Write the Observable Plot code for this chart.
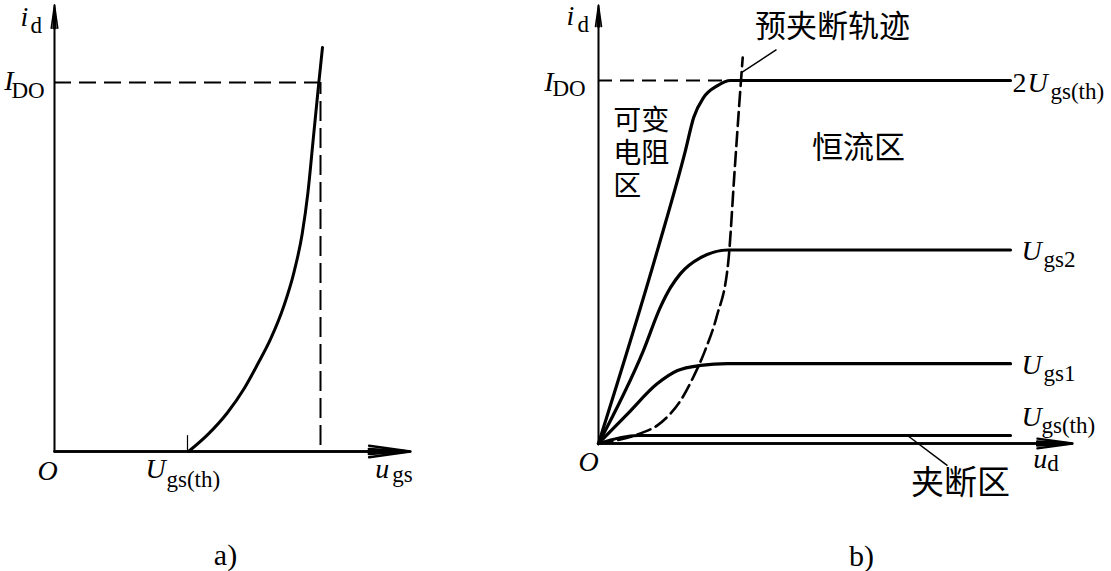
<!DOCTYPE html>
<html><head><meta charset="utf-8">
<script src="https://cdn.jsdelivr.net/npm/d3@7"></script>
<script src="https://cdn.jsdelivr.net/npm/@observablehq/plot@0.6"></script>
<style>
body{margin:0;background:#fff;}
#wrap{display:flex;width:1111px;height:571px;overflow:hidden;}
#wrap svg{overflow:visible;max-width:none;}
</style></head><body><div id="wrap"><div id="a"></div><div id="b"></div></div>
<script>
// ---------- Panel a: transfer characteristic ----------
const aUgs = [4.03, 4.60, 5.20, 5.70, 6.10, 6.50, 6.90, 7.20, 7.45, 7.62, 7.78, 7.95, 8.06];
const aId  = [0,    0.45, 1.05, 1.70, 2.35, 3.05, 3.95, 4.85, 5.90, 7.00, 8.45, 10.0, 10.95];
const aUth = 4, aU2th = 8, IDO = 10;
const aXmax = 10.7, aYmax = 12.1;

// ---------- Panel b: output characteristics ----------
const bUd = {
  "2Uth": [0, 1.43, 2.11, 2.31, 2.55, 2.89, 3.20, 10],
  "Ugs2": [0, 1.09, 1.50, 1.75, 1.99, 2.48, 3.15, 10],
  "Ugs1": [0, 0.70, 1.43, 1.92, 2.48, 3.13, 10],
  "Uth":  [0, 0.95, 10]
};
const bId = {
  "2Uth": [0, 5.32, 8.07, 8.98, 9.53, 9.86, 10, 10],
  "Ugs2": [0, 2.56, 3.75, 4.30, 4.68, 5.12, 5.33, 5.33],
  "Ugs1": [0, 0.81, 1.65, 2.01, 2.15, 2.20, 2.20],
  "Uth":  [0, 0.22, 0.22]
};
const pinchUd = [0, 0.53, 1.02, 1.43, 1.75, 1.99, 2.31, 2.60, 2.87, 3.15, 3.30, 3.42, 3.50];
const pinchId = [0, 0.11, 0.28, 0.50, 0.83, 1.18, 1.85, 2.60, 3.50, 5.00, 7.45, 9.40, 10.63];
const bXmax = 11.5, bYmax = 12.07, bIdoEnd = 3.2;
const curveKeys = ["2Uth", "Ugs2", "Ugs1", "Uth"];
const curvePre  = ["2", "", "", ""];
const curveMain = ["U", "U", "U", "U"];
const curveSub  = ["gs(th)", "gs2", "gs1", "gs(th)"];

const SERIF = "'Liberation Serif', 'Times New Roman', serif";
const CJK = "'Noto Sans CJK SC', 'Noto Sans CJK JP', sans-serif";

function pts(xs, ys) { return xs.map((x, i) => ({x, y: ys[i]})); }
function txt(x, y, t, o) {
  return Plot.text([{x, y, t}], Object.assign({x: "x", y: "y", text: "t", lineAnchor: "bottom", textAnchor: "start",
    fontFamily: SERIF, fontSize: 28}, o));
}
function axisArrow(x2, y2, w, len) {
  const d = [{x1: 0, y1: 0, x2, y2}];
  const base = {x1: "x1", y1: "y1", x2: "x2", y2: "y2", headLength: len, strokeWidth: w, stroke: "black"};
  return [Plot.arrow(d, {...base, headAngle: 16}), Plot.arrow(d, {...base, headAngle: 7})];
}

// ---- plot a ----
const plotA = Plot.plot({
  width: 530, height: 571, marginLeft: 54, marginRight: 210, marginTop: 82, marginBottom: 120,
  style: {background: "white", overflow: "visible"},
  x: {domain: [0, aU2th], axis: null}, y: {domain: [0, IDO], axis: null},
  marks: [
    ...axisArrow(0, aYmax, 1.6, 22),
    ...axisArrow(aXmax, 0, 2.4, 26),
    Plot.ruleY([IDO], {x1: 0, x2: aU2th, stroke: "black", strokeWidth: 2, strokeDasharray: "17,8"}),
    Plot.ruleX([aU2th], {y1: 0, y2: IDO, stroke: "black", strokeWidth: 2, strokeDasharray: "20,7", strokeDashoffset: -6}),
    Plot.ruleX([aUth], {y1: 0, y2: 0.43, stroke: "black", strokeWidth: 1.2}),
    Plot.line(pts(aUgs, aId), {x: "x", y: "y", curve: "monotone-x", stroke: "black", strokeWidth: 3}),
    txt(0, aYmax, "i", {dx: -34, dy: 20.5, fontStyle: "italic"}),
    txt(0, aYmax, "d", {dx: -24, dy: 28, fontSize: 23}),
    txt(0, IDO, "I", {dx: -41, dy: 7, fontStyle: "italic", textAnchor: "end"}),
    txt(0, IDO, "DO", {dx: -43, dy: 15, fontSize: 23}),
    txt(0, 0, "O", {dx: -7, dy: 28, fontStyle: "italic", textAnchor: "middle"}),
    txt(aUth, 0, "U", {dx: -42, dy: 26, fontStyle: "italic"}),
    txt(aUth, 0, "gs(th)", {dx: -21, dy: 35, fontSize: 23}),
    txt(aXmax, 0, "u", {dx: -35, dy: 26, fontStyle: "italic"}),
    txt(aXmax, 0, "gs", {dx: -18, dy: 30, fontSize: 23}),
    Plot.text(["a)"], {frameAnchor: "bottom", dx: 38, dy: 113, lineAnchor: "bottom", fontFamily: SERIF, fontSize: 30})
  ]
});
document.getElementById("a").appendChild(plotA);

// ---- plot b ----
const curveMarks = curveKeys.map(k => Plot.line(pts(bUd[k], bId[k]), {x: "x", y: "y", curve: "monotone-x", stroke: "black", strokeWidth: 3.2}));
const ends = curveKeys.map((k, i) => ({x: bUd[k][bUd[k].length - 1], y: bId[k][bId[k].length - 1], pre: curvePre[i], main: curveMain[i], sub: curveSub[i], i}));
const dyMain = i => (i === 3 ? -10 : i === 0 ? 11 : 10);
const dySub = i => (i === 3 ? -3 : i === 0 ? 18 : 17);
const dxMain = i => (i === 0 ? 17 : 11);
const dxSub = i => (i === 0 ? 40 : i === 3 ? 31 : 33);

const plotB = Plot.plot({
  width: 581, height: 571, marginLeft: 68, marginRight: 101, marginTop: 80, marginBottom: 128,
  style: {background: "white", overflow: "visible"},
  x: {domain: [0, 10], axis: null}, y: {domain: [0, IDO], axis: null},
  marks: [
    ...axisArrow(0, bYmax, 1.6, 20),
    ...axisArrow(bXmax, 0, 2.4, 22),
    Plot.ruleY([IDO], {x1: 0, x2: bIdoEnd, stroke: "black", strokeWidth: 2, strokeDasharray: "14,8"}),
    ...curveMarks,
    Plot.line(pts(pinchUd, pinchId), {x: "x", y: "y", curve: "monotone-x", stroke: "black", strokeWidth: 2.6, strokeDasharray: "14,6"}),
    Plot.link([{x1: 3.47, y1: 10.22, x2: 4.32, y2: 10.85}], {x1: "x1", y1: "y1", x2: "x2", y2: "y2", stroke: "black", strokeWidth: 1.5}),
    Plot.link([{x1: 7.5, y1: 0.22, x2: 8.47, y2: -0.61}], {x1: "x1", y1: "y1", x2: "x2", y2: "y2", stroke: "black", strokeWidth: 1.5}),
    Plot.text(ends, {x: "x", y: "y", text: "pre", dx: 2, dy: 11, lineAnchor: "bottom", textAnchor: "start", fontFamily: SERIF, fontSize: 28}),
    ...ends.map(e => txt(e.x, e.y, e.main, {dx: dxMain(e.i), dy: dyMain(e.i), fontStyle: "italic"})),
    ...ends.map(e => txt(e.x, e.y, e.sub, {dx: dxSub(e.i), dy: dySub(e.i), fontSize: 23})),
    txt(0, bYmax, "i", {dx: -32, dy: 20, fontStyle: "italic"}),
    txt(0, bYmax, "d", {dx: -21, dy: 27, fontSize: 23}),
    txt(0, IDO, "I", {dx: -45, dy: 10, fontStyle: "italic", textAnchor: "end"}),
    txt(0, IDO, "DO", {dx: -46, dy: 15, fontSize: 23}),
    txt(0, 0, "O", {dx: -10, dy: 27, fontStyle: "italic", textAnchor: "middle"}),
    txt(bXmax, 0, "u", {dx: -39, dy: 24, fontStyle: "italic"}),
    txt(bXmax, 0, "d", {dx: -25, dy: 27, fontSize: 23}),
    txt(4.32, 10.85, "预夹断轨迹", {dx: 56, dy: -23, textAnchor: "middle", lineAnchor: "middle", fontFamily: CJK, fontSize: 31}),
    txt(6.31, 8.13, "恒流区", {textAnchor: "middle", lineAnchor: "middle", fontFamily: CJK, fontSize: 31}),
    txt(0.36, 8.03, "可变\n电阻\n区", {textAnchor: "start", lineAnchor: "middle", lineHeight: 1.18, fontFamily: CJK, fontSize: 28}),
    txt(8.47, -0.61, "夹断区", {dx: 13, dy: 18, textAnchor: "middle", lineAnchor: "middle", fontFamily: CJK, fontSize: 33}),
    Plot.text(["b)"], {frameAnchor: "bottom", dx: 57, dy: 122, lineAnchor: "bottom", fontFamily: SERIF, fontSize: 30})
  ]
});
document.getElementById("b").appendChild(plotB);
</script></body></html>
